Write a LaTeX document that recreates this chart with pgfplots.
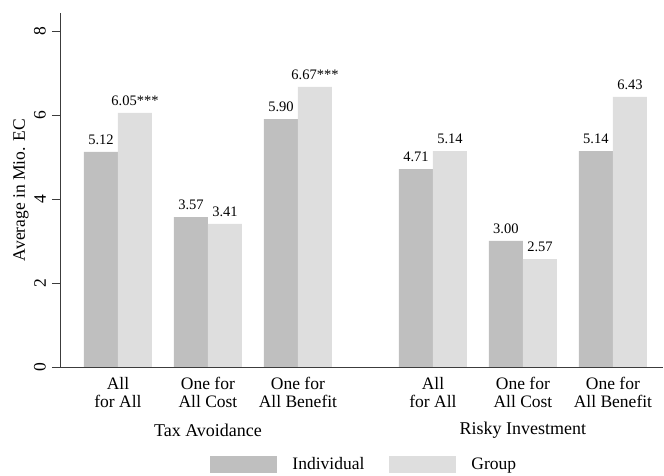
\documentclass[border=0pt]{standalone}
\usepackage{pgfplots}
\pgfplotsset{compat=1.18}
\usepackage{pgfplotstable}
\usepackage{fontspec}
\setmainfont{Liberation Serif}

\definecolor{indgray}{RGB}{191,191,191}
\definecolor{grpgray}{RGB}{222,222,222}
\definecolor{axisgray}{RGB}{60,60,60}

% x position, individual mean, its label, group mean, its label
\pgfplotstableread{
x   ind  indlab grp  grplab
0   5.12 5.12   6.05 6.05***
1   3.57 3.57   3.41 3.41
2   5.90 5.90   6.67 6.67***
3.5 4.71 4.71   5.14 5.14
4.5 3.00 3.00   2.57 2.57
5.5 5.14 5.14   6.43 6.43
}\means

\begin{document}
\begin{tikzpicture}
\begin{axis}[
  scale only axis,
  width=603pt, height=354pt,
  xmin=-0.644, xmax=6.056,
  ymin=0, ymax=8.43,
  axis x line=bottom, axis y line=left,
  axis line style={-, draw=axisgray, line width=0.8pt},
  clip=false,
  xtick={0,1,2,3.5,4.5,5.5},
  xticklabels={All\\for All, One for\\All Cost, One for\\All Benefit,
               All\\for All, One for\\All Cost, One for\\All Benefit},
  x tick style={draw=none},
  xticklabel style={align=center, font=\fontsize{17.5}{18}\selectfont,
                    inner sep=0pt, anchor=north, yshift=-2pt},
  ytick={0,2,4,6,8},
  y tick style={draw=axisgray, line width=0.8pt},
  tick align=outside,
  major tick length=8pt,
  yticklabel style={rotate=90, anchor=south, inner sep=0pt,
                    font=\fontsize{17.5}{20}\selectfont, yshift=6pt},
  /pgf/number format/assume math mode=true,
  ylabel={Average in Mio. EC},
  every axis y label/.style={at={(rel axis cs:0,0.5)}, rotate=90,
                             anchor=center, yshift=39pt,
                             font=\fontsize{17.5}{20}\selectfont},
  ybar,
  bar width=0.378,
  nodes near coords,
  point meta=explicit symbolic,
  every node near coord/.append style={font=\fontsize{14.5}{16}\selectfont,
                                       inner sep=0pt, anchor=south, yshift=7pt},
  legend columns=2,
  legend style={at={(rel axis cs:0.503,-0.276)}, anchor=center, draw=none,
                font=\fontsize{17.5}{20}\selectfont,
                nodes={inner sep=0pt},
                /tikz/every odd column/.append style={column sep=15pt},
                /tikz/every even column/.append style={column sep=25pt}},
  legend image code/.code={\fill[#1] (0pt,-8.5pt) rectangle (67pt,8.5pt);},
]
\addplot[fill=indgray, draw=none, bar shift=-0.189]
  table[x=x, y=ind, meta=indlab] {\means};
\addplot[fill=grpgray, draw=none, bar shift=0.189]
  table[x=x, y=grp, meta=grplab] {\means};
\legend{Individual, Group}

\node[font=\fontsize{18}{20}\selectfont] at (axis cs:1,0) [yshift=-63pt] {Tax Avoidance};
\node[font=\fontsize{18}{20}\selectfont] at (axis cs:4.5,0) [yshift=-63pt] {Risky Investment};

% fixes the page to the full figure frame
\path (rel axis cs:-0.0995,1.0367) rectangle (rel axis cs:1.0017,-0.2966);
\end{axis}
\end{tikzpicture}
\end{document}
